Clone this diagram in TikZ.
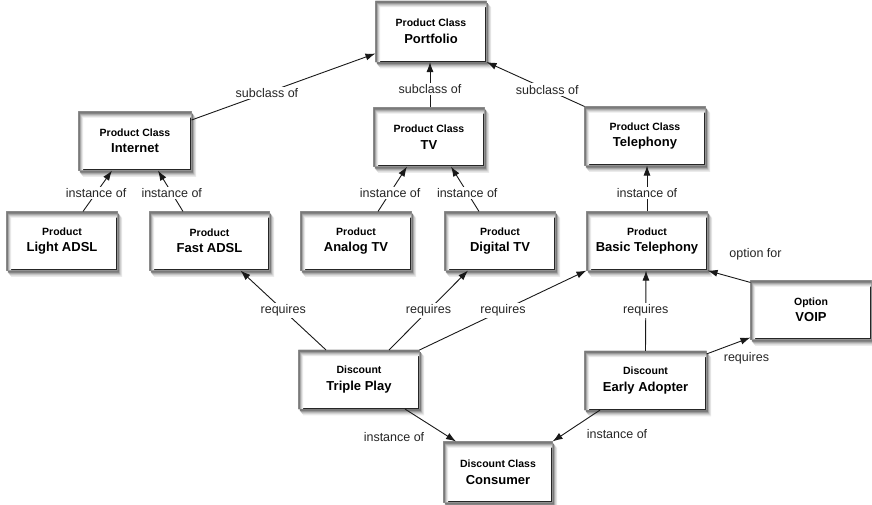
\documentclass[tikz,border=0pt]{standalone}
\usepackage{fontspec}
\setmainfont{Liberation Sans}
\usetikzlibrary{arrows.meta}

% Two-line box caption: kind (small) over name (large)
\newcommand{\boxlabel}[2]{{\fontsize{10.5}{12}\selectfont\bfseries #1}\\[0.5pt]{\fontsize{13}{15}\selectfont\bfseries #2}}

\begin{document}
\begin{tikzpicture}[x=1pt,y=-1pt,
  box/.style={draw=black!85, line width=1.1pt, fill=white, minimum height=58pt,
    inner sep=0pt, align=center, font=\fontsize{13}{16}\selectfont},
  rel/.style={-{Latex[length=10pt,width=7pt]}, line width=0.9pt, draw=black!90},
  lbl/.style={fill=white, inner sep=1.5pt, font=\fontsize{12.5}{14}\selectfont, text=black!85},
]
\useasboundingbox (0,0) rectangle (872,504);

% classes
\node[box, minimum width=110pt, minimum height=60pt] (portfolio) at (431,31.5) {\boxlabel{Product Class}{Portfolio}};
\node[box, minimum width=112pt] (internet)  at (135,141) {\boxlabel{Product Class}{Internet}};
\node[box, minimum width=110pt] (tv)        at (429,137) {\boxlabel{Product Class}{TV}};
\node[box, minimum width=120pt] (telephony) at (645,136) {\boxlabel{Product Class}{Telephony}};

% products
\node[box, minimum width=110pt] (light)   at (62,241)    {\boxlabel{Product}{Light ADSL}};
\node[box, minimum width=119pt] (fast)    at (209.5,241) {\boxlabel{Product}{Fast ADSL}};
\node[box, minimum width=110pt] (analog)  at (356,241)   {\boxlabel{Product}{Analog TV}};
\node[box, minimum width=110pt] (digital) at (500,241)   {\boxlabel{Product}{Digital TV}};
\node[box, minimum width=120pt] (basic)   at (647,241)   {\boxlabel{Product}{Basic Telephony}};

% option and discounts
\node[box, minimum width=120pt] (voip)     at (811,310)   {\boxlabel{Option}{VOIP}};
\node[box, minimum width=120pt] (triple)   at (359,379.5) {\boxlabel{Discount}{Triple Play}};
\node[box, minimum width=121pt] (early)    at (645.5,380.5) {\boxlabel{Discount}{Early Adopter}};
\node[box, minimum width=108pt, minimum height=60pt] (consumer) at (498,472) {\boxlabel{Discount Class}{Consumer}};

% soft drop shadows: offset grey bands outside each box (box area cut out
% with the even-odd rule), lightest and widest first
\foreach \n in {portfolio,internet,tv,telephony,light,fast,analog,digital,basic,voip,triple,early,consumer}{
  \foreach \dx/\dy/\grey in {4.6/6.2/8, 3.7/5.1/16, 2.9/4.1/26, 2.1/3.1/38, 1.3/2.1/52}{
    \fill[black!\grey, even odd rule]
      ([xshift=\dx pt, yshift=-\dy pt]\n.south west) rectangle ([xshift=\dx pt, yshift=-\dy pt]\n.north east)
      (\n.south west) rectangle (\n.north east);
  }
}

% subclass relations
\draw[rel] ([yshift=21pt]internet.east) -- node[lbl,pos=0.41]{subclass of} ([yshift=-22pt]portfolio.west);
\draw[rel] ([xshift=1pt]tv.north) -- node[lbl,pos=0.4]{subclass of} ([xshift=-1pt]portfolio.south);
\draw[rel] (telephony.north west) -- node[lbl,pos=0.38]{subclass of} (portfolio.south east);

% instance relations
\draw[rel] ([xshift=21pt]light.north) -- node[lbl,pos=0.45]{instance of} ([xshift=-23pt]internet.south);
\draw[rel] ([xshift=-26.5pt]fast.north) -- node[lbl,pos=0.45]{instance of} ([xshift=23pt]internet.south);
\draw[rel] ([xshift=22pt]analog.north) -- node[lbl,pos=0.42]{instance of} ([xshift=-22pt]tv.south);
\draw[rel] ([xshift=-21pt]digital.north) -- node[lbl,pos=0.42]{instance of} ([xshift=22pt]tv.south);
\draw[rel] (basic.north) -- node[lbl,pos=0.4]{instance of} ([xshift=2pt]telephony.south);
\draw[rel] ([xshift=46pt]triple.south) -- node[lbl,pos=1,xshift=-62pt,yshift=4pt]{instance of} ([xshift=-42pt]consumer.north);
\draw[rel] ([xshift=-45.5pt]early.south) -- node[lbl,pos=0,xshift=17pt,yshift=-24pt]{instance of} (consumer.north east);

% option relation
\draw[rel] ([yshift=-2pt]voip.north west) -- node[lbl,pos=0,xshift=5pt,yshift=28pt]{option for} (basic.south east);

% requirements
\draw[rel] ([xshift=-33pt]triple.north) -- node[lbl,pos=0.5]{requires} ([xshift=31pt]fast.south);
\draw[rel] ([xshift=30pt]triple.north) -- node[lbl,pos=0.5]{requires} ([xshift=-32pt]digital.south);
\draw[rel] (triple.north east) -- node[lbl,pos=0.5]{requires} (basic.south west);
\draw[rel] (early.north) -- node[lbl,pos=0.5]{requires} ([xshift=-1pt]basic.south);
\draw[rel] ([yshift=-3pt]early.north east) -- node[lbl,pos=1,xshift=-4pt,yshift=-21pt]{requires} ([yshift=2pt]voip.south west);
\end{tikzpicture}
\end{document}
